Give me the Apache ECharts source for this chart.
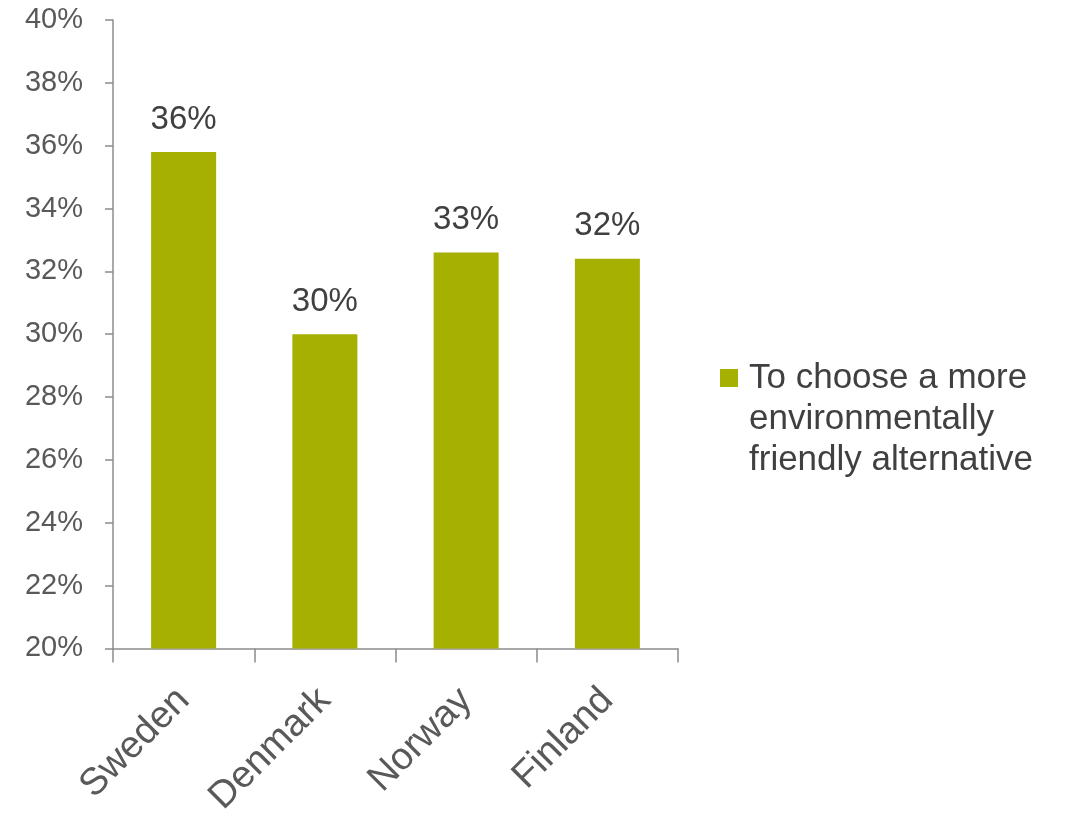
<!DOCTYPE html>
<html><head><meta charset="utf-8">
<script src="https://cdn.jsdelivr.net/npm/echarts@6/dist/echarts.min.js"></script>
<style>html,body{margin:0;padding:0;background:#fff}#c{width:1073px;height:819px}</style>
</head><body><div id="c"></div>
<script>
const categories = ['Sweden', 'Denmark', 'Norway', 'Finland'];
const values = [35.8, 30.0, 32.6, 32.4];
const seriesName = 'To choose a more\nenvironmentally\nfriendly alternative';
const yTicks = [20, 22, 24, 26, 28, 30, 32, 34, 36, 38, 40];
const barColor = '#a5b000';

const chart = echarts.init(document.getElementById('c'));
const font = '"Liberation Sans", Arial, sans-serif';
chart.setOption({
  animation: false,
  backgroundColor: '#ffffff',
  grid: { left: 113, right: 395, top: 20, bottom: 169, containLabel: false },
  graphic: [
    { type: 'rect', left: 720, top: 369, shape: { width: 18, height: 18 }, style: { fill: barColor } },
    { type: 'text', left: 749, top: 358,
      style: { text: seriesName, font: '35px "Liberation Sans", Arial, sans-serif', lineHeight: 41, fill: '#404040' } }
  ],
  xAxis: {
    type: 'category',
    data: categories,
    axisLine: { lineStyle: { color: '#8c8c8c', width: 1.5 } },
    axisTick: { show: true, alignWithLabel: false, length: 14, lineStyle: { color: '#8c8c8c', width: 1.5 } },
    axisLabel: { rotate: 45, fontFamily: font, fontSize: 38, color: '#595959', margin: 46, interval: 0 },
    splitLine: { show: false }
  },
  yAxis: {
    type: 'value',
    min: yTicks[0], max: yTicks[yTicks.length - 1], interval: 2,
    axisLine: { show: true, lineStyle: { color: '#8c8c8c', width: 1.5 } },
    axisTick: { show: true, length: 8, lineStyle: { color: '#8c8c8c', width: 1.5 } },
    axisLabel: { fontFamily: font, fontSize: 29, color: '#595959', margin: 30, formatter: v => v + '%' },
    splitLine: { show: false }
  },
  series: [{
    name: seriesName,
    type: 'bar',
    data: values,
    barWidth: 65,
    itemStyle: { color: barColor },
    label: {
      show: true, position: 'top', distance: 16,
      fontFamily: font, fontSize: 33, color: '#404040',
      formatter: p => Math.round(p.value) + '%'
    }
  }]
});
</script></body></html>
